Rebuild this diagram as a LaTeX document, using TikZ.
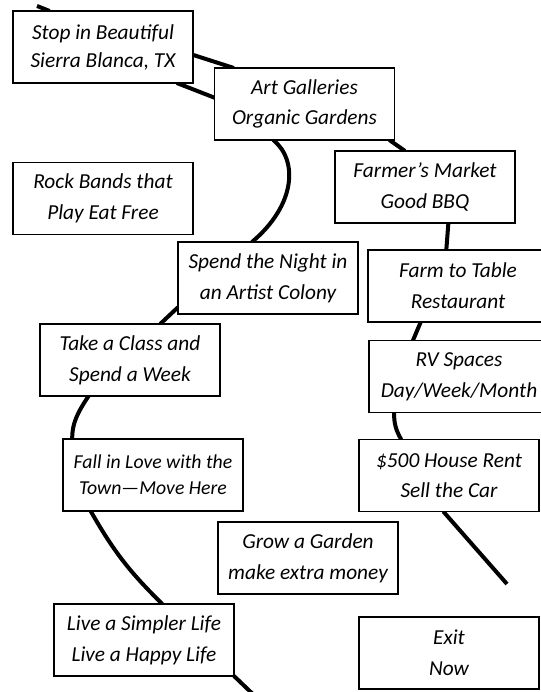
\documentclass[tikz,border=0pt]{standalone}
\usepackage{fontspec}
\setmainfont{Carlito}
\usetikzlibrary{backgrounds}

\begin{document}
\begin{tikzpicture}[x=0.75pt,y=-0.75pt,
    stopbox/.style={draw, fill=white, line width=1pt, inner sep=0pt, outer sep=0pt,
      minimum width=135pt, minimum height=54pt, align=center,
      font=\itshape\fontsize{16}{23}\selectfont},
    road/.style={line width=3pt}]
  \useasboundingbox (0,0) rectangle (540,692);

  % Left side
  \node[stopbox, font=\itshape\fontsize{16}{21}\selectfont] (stop) at (103,47) {Stop in Beautiful\\Sierra Blanca, TX};
  \node[stopbox] (rock) at (103,198.5) {Rock Bands that\\Play Eat Free};
  \node[stopbox] (class) at (130,360) {Take a Class and\\Spend a Week};
  \node[stopbox, font=\itshape\fontsize{14.8}{19.5}\selectfont] (love) at (153,475) {Fall in Love with the\\Town---Move Here};
  \node[stopbox] (life) at (144,640) {Live a Simpler Life\\Live a Happy Life};

  % Middle
  \node[stopbox] (art) at (304.5,104) {Art Galleries\\Organic Gardens};
  \node[stopbox] (night) at (268,278) {Spend the Night in\\an Artist Colony};
  \node[stopbox] (grow) at (308,558) {Grow a Garden\\make extra money};

  % Right side
  \node[stopbox] (market) at (425,187) {Farmer’s Market\\Good BBQ};
  \node[stopbox] (farm) at (458,286) {Farm to Table\\Restaurant};
  \node[stopbox] (rv) at (459,376.5) {RV Spaces\\Day/Week/Month};
  \node[stopbox] (rent) at (449,475.5) {\$500 House Rent\\Sell the Car};
  \node[stopbox] (exit) at (449,653) {Exit\\Now};

  % The road
  \coordinate (roadin) at (37,6);
  \coordinate (roadout) at (507,584);
  \coordinate (roadoff) at (258,699);
  \begin{scope}[on background layer]
    \draw[road] (roadin) -- (stop.146);
    \draw[road] (stop.-5) -- (art.153);
    \draw[road] (stop.-26) -- (art.176);
    \draw[road] (art.-23) -- (market.119);
    \draw[road] (market.-57) -- (farm.108);
    \draw[road] (farm.-136) -- (rv.142);
    \draw[road] (rv.-151) to[bend right=15] (rent.143);
    \draw[road] (rent.-99) -- (roadout);
    \draw[road] (art.-131) .. controls +(25,20) and +(44,-37) .. (night.114);
    \draw[road] (night.-162) -- (class.50);
    \draw[road] (class.-139) .. controls +(-12,18) and +(0,-15) .. (love.156);
    \draw[road] (love.-150) to[bend right=8] (life.63);
    \draw[road] (life.south east) -- (roadoff);
  \end{scope}
\end{tikzpicture}
\end{document}
